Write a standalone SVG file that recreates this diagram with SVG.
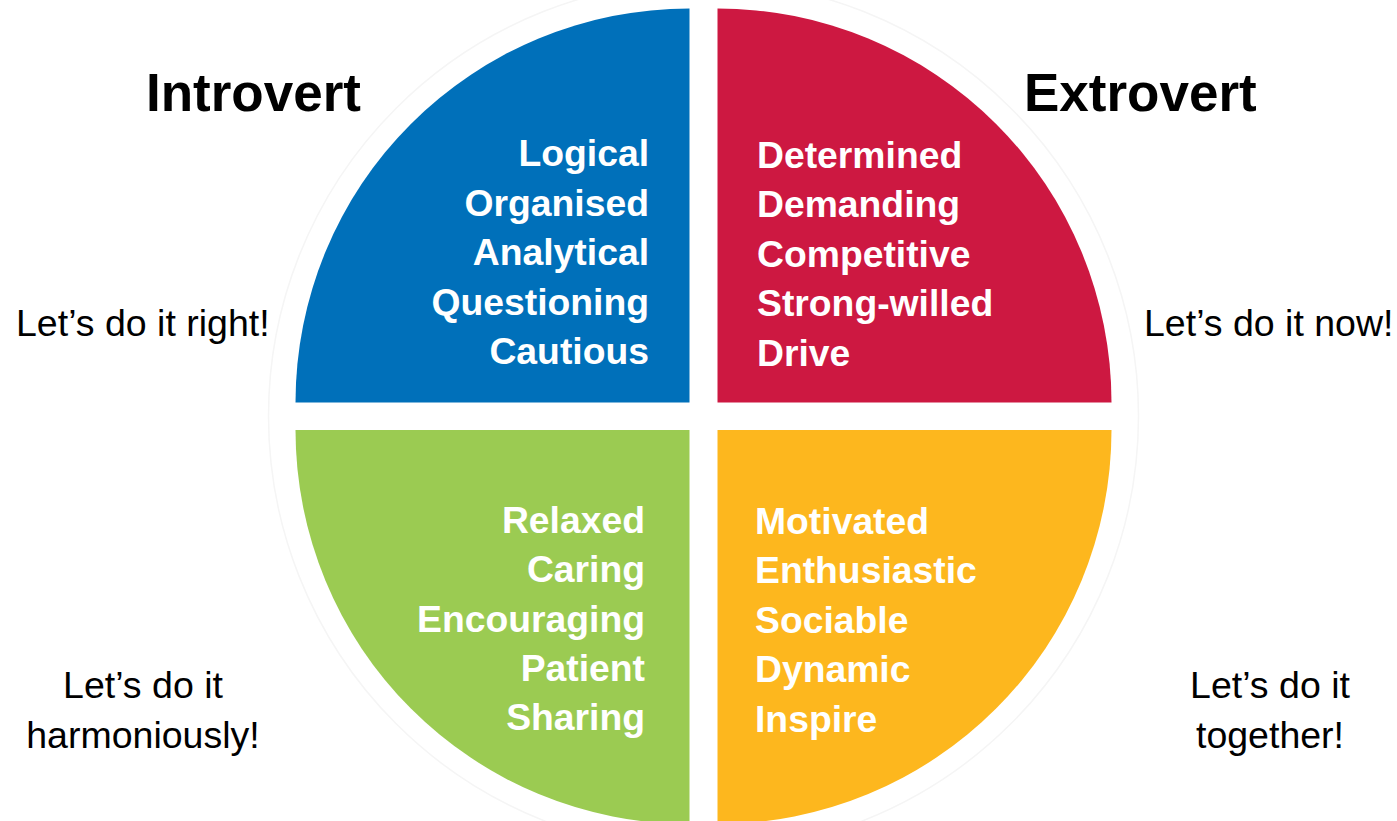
<svg xmlns="http://www.w3.org/2000/svg" width="1397" height="821" viewBox="0 0 1397 821">
<style>
.title{font-family:"Liberation Sans",Arial,sans-serif;font-weight:bold;font-size:53px;fill:#000}
.item{font-family:"Liberation Sans",Arial,sans-serif;font-weight:bold;font-size:37.3px;fill:#fff}
.side{font-family:"Liberation Sans",Arial,sans-serif;font-size:37.5px;fill:#000}
</style>
<rect width="1397" height="821" fill="#fff"/>
<circle cx="703.5" cy="416" r="435" fill="none" stroke="#f5f5f5" stroke-width="1.5"/>
<g id="introvert-quadrant">
<path d="M689.5,402.5 L295.5,402.5 A394,394 0 0 1 689.5,8.5 Z" fill="#0070BA"/>
<text class="item" text-anchor="end" x="649" y="166">Logical</text>
<text class="item" text-anchor="end" x="649" y="215.5">Organised</text>
<text class="item" text-anchor="end" x="649" y="265">Analytical</text>
<text class="item" text-anchor="end" x="649" y="314.5">Questioning</text>
<text class="item" text-anchor="end" x="649" y="364">Cautious</text>
</g>
<g id="extrovert-quadrant">
<path d="M717.5,402.5 L717.5,8.5 A394,394 0 0 1 1111.5,402.5 Z" fill="#CD1841"/>
<text class="item" x="757" y="167.5">Determined</text>
<text class="item" x="757" y="217">Demanding</text>
<text class="item" x="757" y="266.5">Competitive</text>
<text class="item" x="757" y="316">Strong-willed</text>
<text class="item" x="757" y="365.5">Drive</text>
</g>
<g id="harmonious-quadrant">
<path d="M689.5,430 L689.5,824 A394,394 0 0 1 295.5,430 Z" fill="#9BCB52"/>
<text class="item" text-anchor="end" x="645" y="532.5">Relaxed</text>
<text class="item" text-anchor="end" x="645" y="582">Caring</text>
<text class="item" text-anchor="end" x="645" y="631.5">Encouraging</text>
<text class="item" text-anchor="end" x="645" y="680.5">Patient</text>
<text class="item" text-anchor="end" x="645" y="730">Sharing</text>
</g>
<g id="together-quadrant">
<path d="M717.5,430 L1111.5,430 A394,394 0 0 1 717.5,824 Z" fill="#FDB71E"/>
<text class="item" x="755" y="533.5">Motivated</text>
<text class="item" x="755" y="583">Enthusiastic</text>
<text class="item" x="755" y="632.5">Sociable</text>
<text class="item" x="755" y="682">Dynamic</text>
<text class="item" x="755" y="731.5">Inspire</text>
</g>
<g id="titles">
<text class="title" x="146" y="111">Introvert</text>
<text class="title" x="1024" y="111">Extrovert</text>
</g>
<g id="side-labels">
<text class="side" x="16" y="336">Let’s do it right!</text>
<text class="side" x="1144" y="336">Let’s do it now!</text>
<text class="side" text-anchor="middle" x="143" y="698">Let’s do it</text>
<text class="side" text-anchor="middle" x="143" y="748">harmoniously!</text>
<text class="side" text-anchor="middle" x="1270" y="698">Let’s do it</text>
<text class="side" text-anchor="middle" x="1270" y="748">together!</text>
</g>
<g id="connectors"></g>
</svg>
